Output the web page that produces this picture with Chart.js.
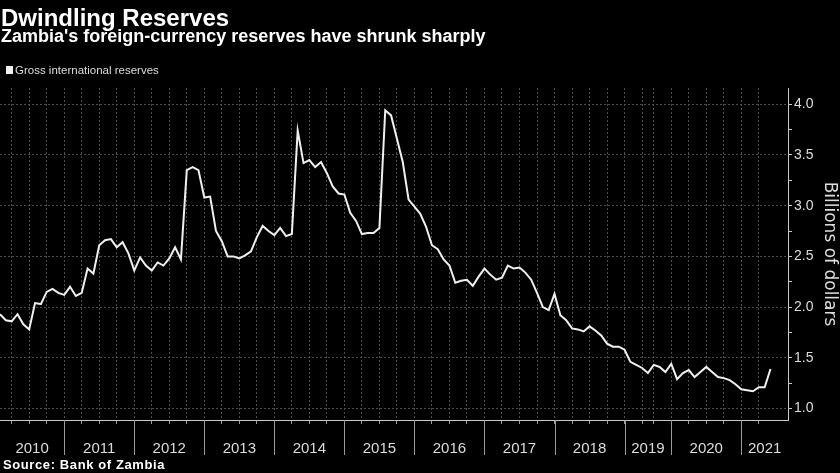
<!DOCTYPE html>
<html>
<head>
<meta charset="utf-8">
<title>Dwindling Reserves</title>
<script src="https://cdn.jsdelivr.net/npm/chart.js@4.4.0/dist/chart.umd.min.js"></script>
<style>
  html, body { margin: 0; padding: 0; background: #000; }
  #contenedor { position: relative; width: 840px; height: 473px; overflow: hidden; background: #000;
    font-family: "Liberation Sans", Arial, sans-serif; color: #fff; }
  #grafico { position: absolute; left: 0; top: 0; }
  .titulo { position: absolute; left: 1px; top: 6px; font-size: 24px; line-height: 24px; font-weight: bold; white-space: nowrap; }
  .subtitulo { position: absolute; left: 1px; top: 27px; font-size: 18px; line-height: 18px; font-weight: bold; white-space: nowrap; }
  .leyenda-cuadro { position: absolute; left: 6px; top: 66px; width: 7px; height: 8px; background: #f0f0f0; }
  .leyenda-texto { position: absolute; left: 15px; top: 64px; font-size: 11.5px; line-height: 12px; color: #dcdcdc; white-space: nowrap; }
  .fuente { position: absolute; left: 3px; top: 458px; font-size: 13px; line-height: 13px; font-weight: bold; letter-spacing: 0.6px; white-space: nowrap; }
</style>
</head>
<body>
<div id="contenedor">
  <canvas id="grafico" width="840" height="473"></canvas>
  <div class="titulo">Dwindling Reserves</div>
  <div class="subtitulo">Zambia's foreign-currency reserves have shrunk sharply</div>
  <div class="leyenda-cuadro"></div>
  <div class="leyenda-texto">Gross international reserves</div>
  <div class="fuente">Source: Bank of Zambia</div>
</div>
<script>
// Reservas internacionales brutas (miles de millones de USD), un punto por mes publicado
const reserves = [
  1.93, 1.87, 1.86, 1.93, 1.83, 1.78, 2.04, 2.03, 2.15, 2.18, 2.14,
  2.12, 2.20, 2.11, 2.14, 2.38, 2.33, 2.61, 2.66, 2.67, 2.59, 2.64, 2.53,
  2.36, 2.49, 2.41, 2.36, 2.44, 2.41, 2.48, 2.59, 2.47, 3.35, 3.38, 3.35,
  3.08, 3.09, 2.75, 2.65, 2.50, 2.50, 2.48, 2.51, 2.55, 2.69, 2.80, 2.75,
  2.71, 2.78, 2.70, 2.72, 3.74, 3.42, 3.45, 3.38, 3.43, 3.32, 3.19, 3.12,
  3.11, 2.93, 2.85, 2.72, 2.73, 2.73, 2.78, 3.94, 3.89, 3.66, 3.43, 3.06,
  2.99, 2.92, 2.79, 2.61, 2.57, 2.47, 2.41, 2.24, 2.26, 2.27, 2.21, 2.30,
  2.38, 2.32, 2.27, 2.29, 2.41, 2.38, 2.39, 2.34, 2.27, 2.14, 2.00, 1.97,
  2.13, 1.92, 1.87, 1.79, 1.78, 1.76, 1.81, 1.77, 1.72, 1.64, 1.61, 1.61,
  1.58, 1.46, 1.43, 1.40, 1.35, 1.43, 1.41, 1.36,
  1.44, 1.29, 1.35, 1.38, 1.31, 1.36, 1.41, 1.36, 1.31, 1.30, 1.28, 1.24,
  1.19, 1.18, 1.17, 1.21, 1.21, 1.39
];

// Años del eje X y el índice del primer punto de cada año
const years = ["2010", "2011", "2012", "2013", "2014", "2015", "2016", "2017", "2018", "2019", "2020", "2021"];
const yearStarts = [0, 11, 23, 35, 47, 59, 71, 83, 95, 107, 115, 127];

// Líneas de trimestre (índices de punto)
const quarterTicks = [2, 5, 8, 11, 14, 17, 20, 23, 26, 29, 32, 35, 38, 41, 44, 47, 50, 53, 56, 59,
  62, 65, 68, 71, 74, 77, 80, 83, 86, 89, 92, 95, 98, 101, 104, 107, 110, 112, 115, 118, 121, 124, 127, 130];

// Marcas del eje Y
const yTicks = [1.0, 1.25, 1.5, 1.75, 2.0, 2.25, 2.5, 2.75, 3.0, 3.25, 3.5, 3.75, 4.0];

const colorGrilla = "#4d4d4d";
const colorEje = "#c8c8c8";
const colorTexto = "#dcdcdc";

// Separadores de año y etiquetas bajo el eje X
const separadoresAnios = {
  id: "separadoresAnios",
  afterDraw(chart) {
    const { ctx, chartArea, scales } = chart;
    const x = scales.x;
    ctx.save();
    ctx.strokeStyle = "#9a9a9a";
    ctx.lineWidth = 1;
    ctx.fillStyle = colorTexto;
    ctx.font = '15px "Liberation Sans", Arial, sans-serif';
    ctx.textAlign = "center";
    ctx.textBaseline = "alphabetic";
    years.forEach((anio, i) => {
      const inicio = yearStarts[i];
      const fin = i + 1 < yearStarts.length ? yearStarts[i + 1] : x.max;
      if (inicio > x.min) {
        const px = Math.round(x.getPixelForValue(inicio)) + 0.5;
        ctx.beginPath();
        ctx.moveTo(px, chartArea.bottom);
        ctx.lineTo(px, chartArea.bottom + 35);
        ctx.stroke();
      }
      ctx.fillText(anio, x.getPixelForValue((inicio + fin) / 2), chartArea.bottom + 33);
    });
    ctx.restore();
  }
};

function esMarcaMenor(valor) {
  return Math.abs(valor * 2 - Math.round(valor * 2)) > 1e-6;
}

const ctx = document.getElementById("grafico").getContext("2d");
new Chart(ctx, {
  type: "line",
  data: {
    datasets: [{
      label: "Gross international reserves",
      data: reserves.map((v, i) => ({ x: i, y: v })),
      borderColor: "#f0f0f0",
      borderWidth: 2,
      pointRadius: 0,
      tension: 0
    }]
  },
  options: {
    responsive: false,
    animation: false,
    devicePixelRatio: 1,
    layout: { padding: { top: 88, left: 0, right: 0, bottom: 0 } },
    plugins: {
      legend: { display: false },
      tooltip: { enabled: false }
    },
    scales: {
      x: {
        type: "linear",
        min: 0,
        max: 135,
        afterBuildTicks: scale => { scale.ticks = quarterTicks.map(v => ({ value: v })); },
        afterFit: scale => { scale.height = 53; },
        ticks: { display: false },
        grid: { color: colorGrilla, tickColor: "#9a9a9a", tickLength: 4, lineWidth: 1 },
        border: { display: true, color: colorEje, width: 1, dash: [2, 2] }
      },
      y: {
        position: "right",
        min: 0.887,
        max: 4.16,
        afterBuildTicks: scale => { scale.ticks = yTicks.map(v => ({ value: v })); },
        afterFit: scale => { scale.width = 52; },
        ticks: {
          color: colorTexto,
          padding: 2,
          font: { family: '"Liberation Sans", Arial, sans-serif', size: 14 },
          callback: v => esMarcaMenor(v) ? "" : v.toFixed(1)
        },
        grid: {
          color: c => (c.tick && esMarcaMenor(c.tick.value)) ? "rgba(0,0,0,0)" : colorGrilla,
          tickColor: colorEje,
          tickLength: 4,
          lineWidth: 1
        },
        border: { display: true, color: colorEje, width: 1, dash: [2, 2] },
        title: {
          display: true,
          text: "Billions of dollars",
          color: colorTexto,
          padding: 0,
          font: { family: '"DejaVu Sans", sans-serif', size: 17 }
        }
      }
    }
  },
  plugins: [separadoresAnios]
});
</script>
</body>
</html>
